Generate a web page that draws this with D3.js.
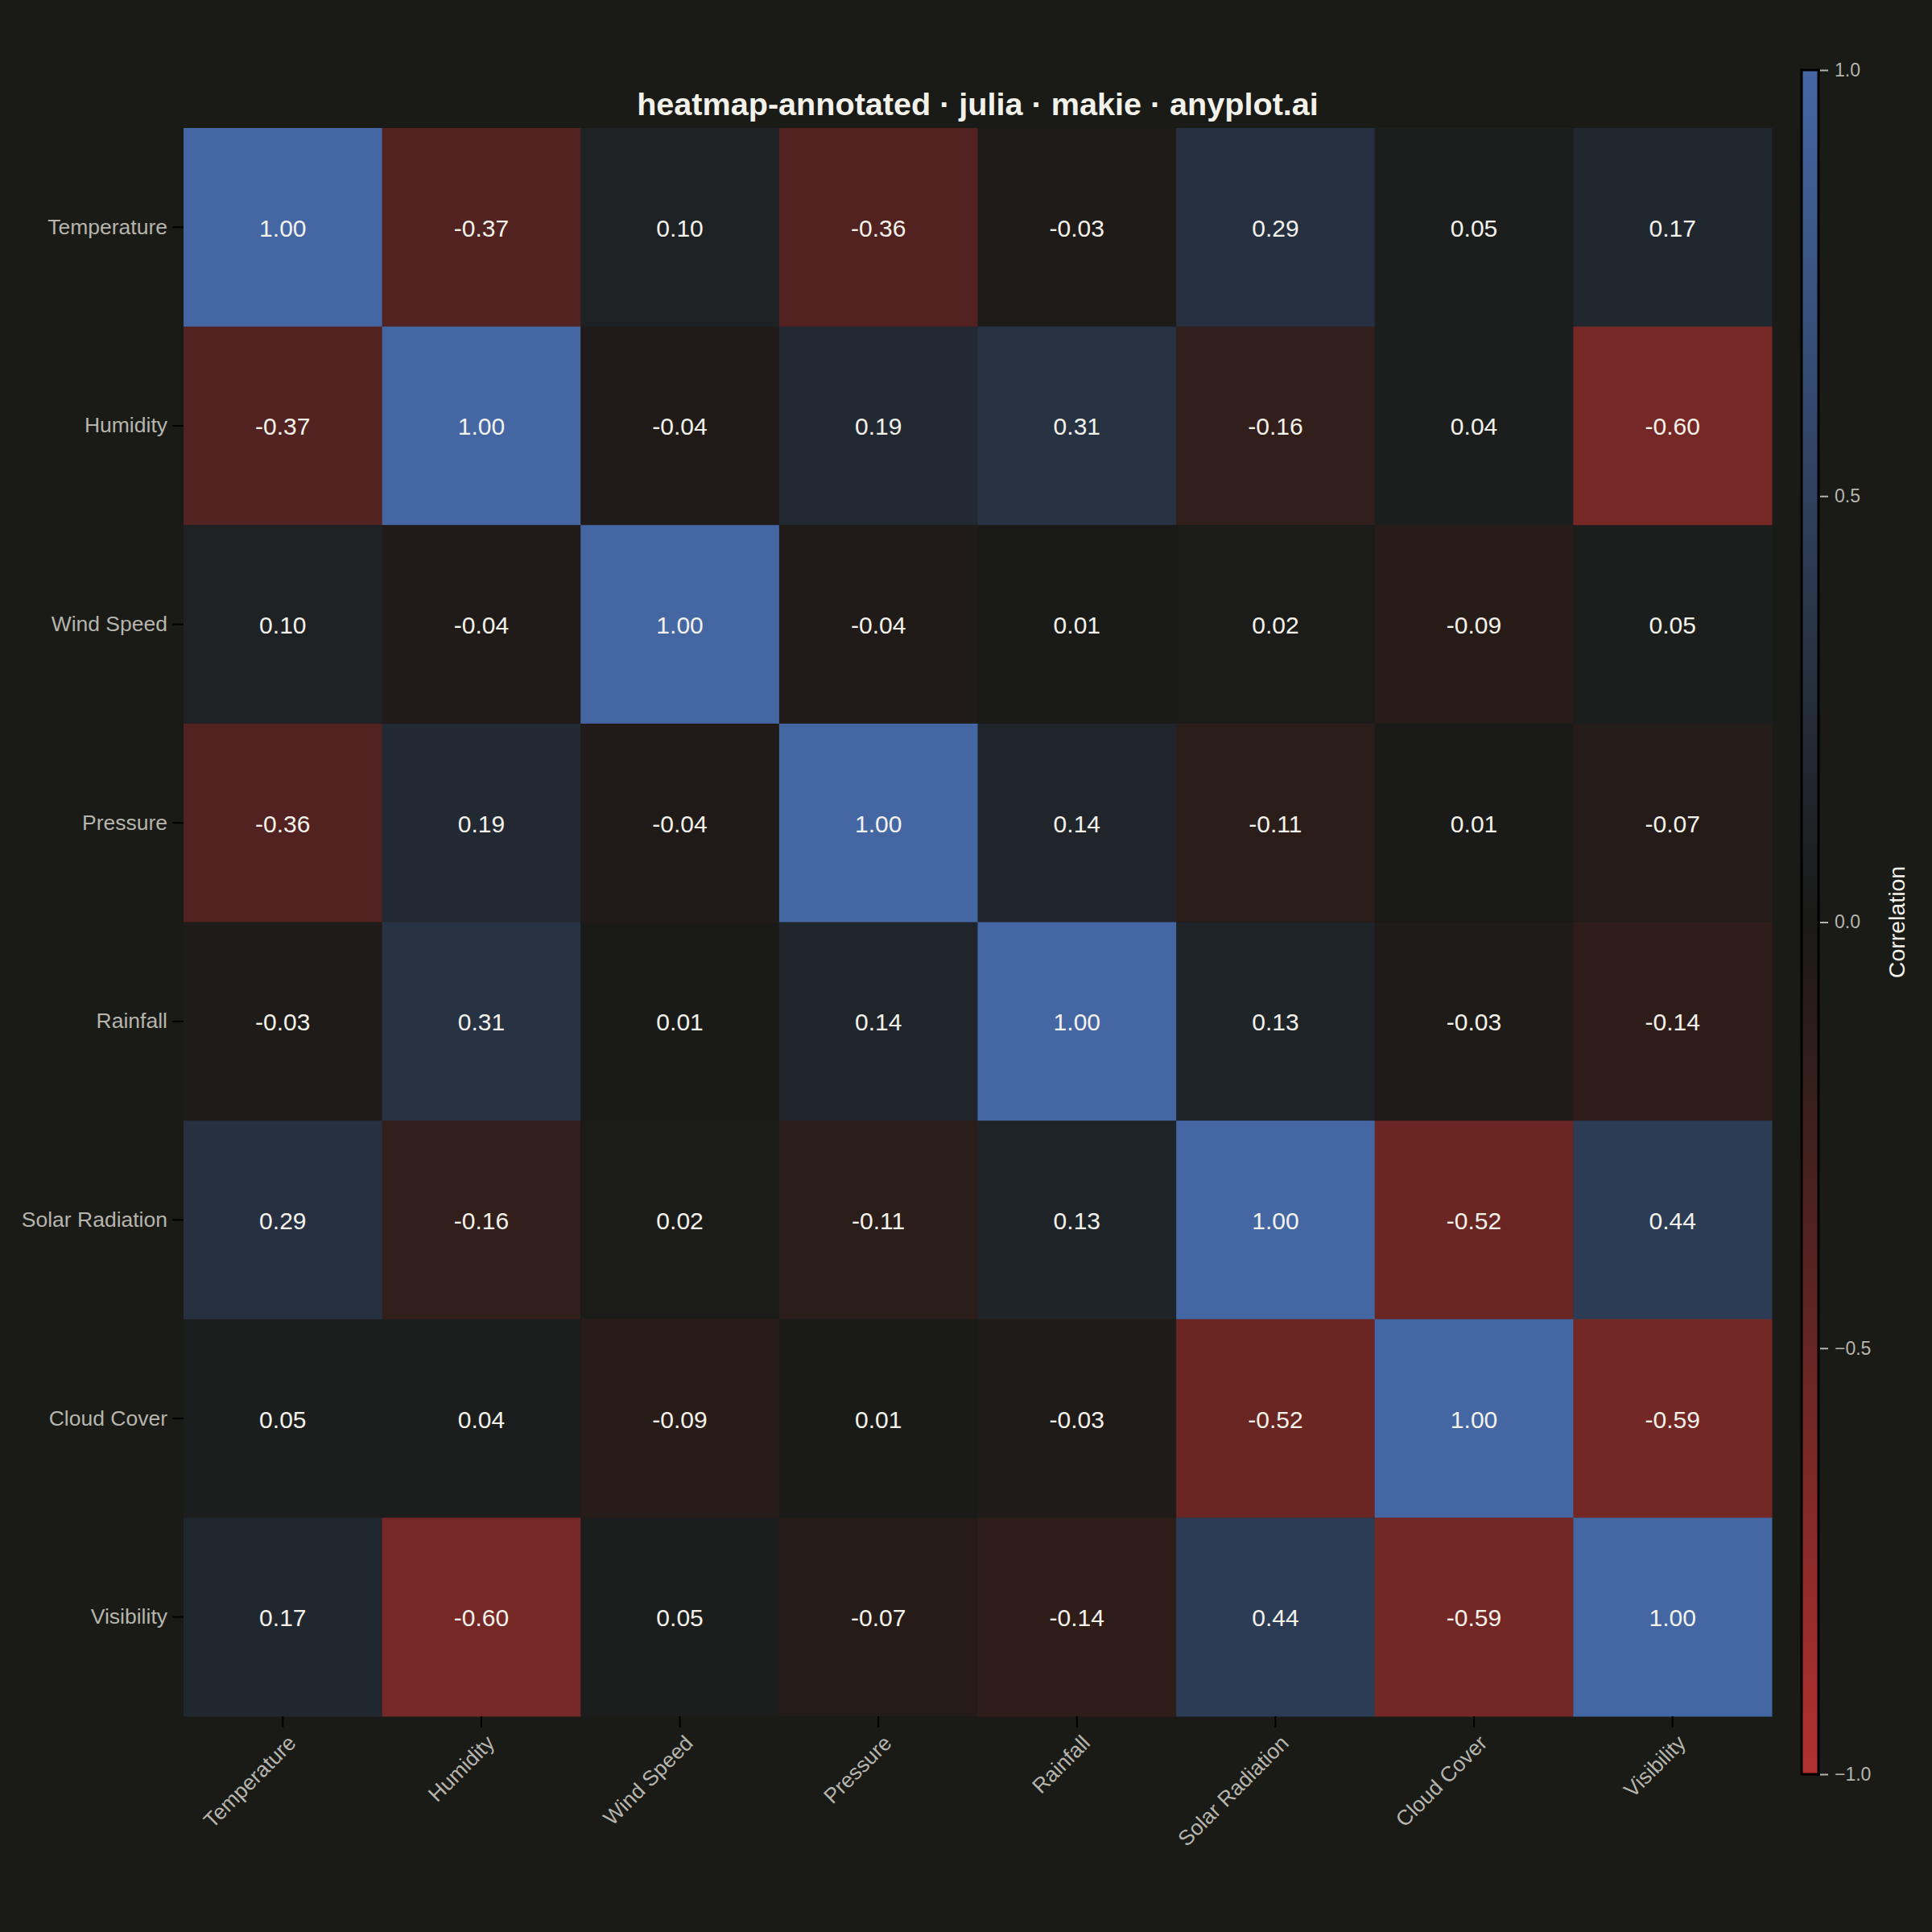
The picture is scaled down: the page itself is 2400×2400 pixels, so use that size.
<!DOCTYPE html>
<html lang="en">
<head>
<meta charset="UTF-8">
<title>heatmap-annotated</title>
<script src="https://d3js.org/d3.v7.min.js"></script>
<style>
    html, body { margin: 0; padding: 0; background: #1a1a17; }
    svg { display: block; font-family: "Liberation Sans", Arial, sans-serif; }
    .tick text { fill: #b5b5ad; }
</style>
</head>
<body>
<svg></svg>
<script>
const variables = ['Temperature', 'Humidity', 'Wind Speed', 'Pressure',
                   'Rainfall', 'Solar Radiation', 'Cloud Cover', 'Visibility']
const correlations = [
    [ 1.00, -0.37,  0.10, -0.36, -0.03,  0.29,  0.05,  0.17],
    [-0.37,  1.00, -0.04,  0.19,  0.31, -0.16,  0.04, -0.60],
    [ 0.10, -0.04,  1.00, -0.04,  0.01,  0.02, -0.09,  0.05],
    [-0.36,  0.19, -0.04,  1.00,  0.14, -0.11,  0.01, -0.07],
    [-0.03,  0.31,  0.01,  0.14,  1.00,  0.13, -0.03, -0.14],
    [ 0.29, -0.16,  0.02, -0.11,  0.13,  1.00, -0.52,  0.44],
    [ 0.05,  0.04, -0.09,  0.01, -0.03, -0.52,  1.00, -0.59],
    [ 0.17, -0.60,  0.05, -0.07, -0.14,  0.44, -0.59,  1.00]
]
const colorTicks = [-1, -0.5, 0, 0.5, 1]

const [width, height] = [2400, 2400]
const bg = '#1a1a17'
const plot = {left: 228, right: 2201, top: 159, bottom: 2132}
const bar = {left: 2238, right: 2259, top: 87, bottom: 2204}

const svg = d3.select('svg').attr('width', width).attr('height', height)
svg.append('rect').attr('width', width).attr('height', height).attr('fill', bg)

const x = d3.scaleBand().domain(variables).range([plot.left, plot.right])
const y = d3.scaleBand().domain(variables).range([plot.top, plot.bottom])
const color = d3.scaleLinear().domain([-1, 0, 1])
    .range(['#b2312f', bg, '#4467a4']).interpolate(d3.interpolateRgb)

const cells = correlations.flatMap((row, i) =>
    row.map((v, j) => ({row: variables[i], col: variables[j], v})))

svg.append('g').selectAll('rect').data(cells).join('rect')
    .attr('x', d => x(d.col)).attr('y', d => y(d.row))
    .attr('width', x.bandwidth() + 0.5).attr('height', y.bandwidth() + 0.5)
    .attr('fill', d => color(d.v))

svg.append('g').selectAll('text').data(cells).join('text')
    .attr('x', d => x(d.col) + x.bandwidth()/2)
    .attr('y', d => y(d.row) + y.bandwidth()/2 + 1)
    .attr('text-anchor', 'middle').attr('dominant-baseline', 'central')
    .attr('font-size', 30).attr('fill', '#f2f1ea')
    .text(d => d.v.toFixed(2))

// axes
const yAxis = svg.append('g').attr('transform', `translate(${plot.left},0)`)
    .call(d3.axisLeft(y).tickSize(14).tickPadding(6))
yAxis.select('.domain').remove()
yAxis.selectAll('.tick line').attr('stroke', '#000').attr('stroke-width', 2)
yAxis.selectAll('.tick text').attr('font-size', 26.5)
    .attr('font-family', '"Liberation Sans", Arial, sans-serif')

const xAxis = svg.append('g').attr('transform', `translate(0,${plot.bottom})`)
    .call(d3.axisBottom(x).tickSize(14).tickPadding(6))
xAxis.select('.domain').remove()
xAxis.selectAll('.tick line').attr('stroke', '#000').attr('stroke-width', 2)
xAxis.selectAll('.tick text').attr('font-size', 26.5)
    .attr('font-family', '"Liberation Sans", Arial, sans-serif')
    .attr('text-anchor', 'end').attr('dy', null)
    .attr('dominant-baseline', 'middle')
    .attr('transform', 'translate(13,30) rotate(-45)')
    .attr('y', 0).attr('x', 0)

// title
svg.append('text')
    .attr('x', (plot.left + plot.right)/2).attr('y', 143)
    .attr('text-anchor', 'middle').attr('font-size', 39.6).attr('font-weight', 'bold')
    .attr('fill', '#f2f1ea')
    .text('heatmap-annotated · julia · makie · anyplot.ai')

// colorbar
const cy = d3.scaleLinear().domain([-1, 1]).range([bar.bottom, bar.top])
const grad = svg.append('defs').append('linearGradient').attr('id', 'cbar')
    .attr('x1', 0).attr('y1', 1).attr('x2', 0).attr('y2', 0)
grad.selectAll('stop').data(d3.range(-1, 1.001, 0.1)).join('stop')
    .attr('offset', d => (d + 1)/2).attr('stop-color', d => color(d))
svg.append('rect')
    .attr('x', bar.left).attr('y', bar.top)
    .attr('width', bar.right - bar.left).attr('height', bar.bottom - bar.top)
    .attr('fill', 'url(#cbar)').attr('stroke', '#000').attr('stroke-width', 3)

const cAxis = svg.append('g').attr('transform', `translate(${bar.right + 2},0)`)
    .call(d3.axisRight(cy).tickValues(colorTicks).tickSize(10).tickPadding(8)
        .tickFormat(d => d3.format('.1f')(d).replace('-', '−')))
cAxis.select('.domain').remove()
cAxis.selectAll('.tick line').attr('stroke', '#b5b5ad').attr('stroke-width', 2)
cAxis.selectAll('.tick text').attr('font-size', 23)
    .attr('font-family', '"Liberation Sans", Arial, sans-serif')

svg.append('text')
    .attr('transform', `translate(2366,${(bar.top + bar.bottom)/2}) rotate(-90)`)
    .attr('text-anchor', 'middle')
    .attr('font-size', 28.5).attr('fill', '#f2f1ea')
    .text('Correlation')
</script>
</body>
</html>
